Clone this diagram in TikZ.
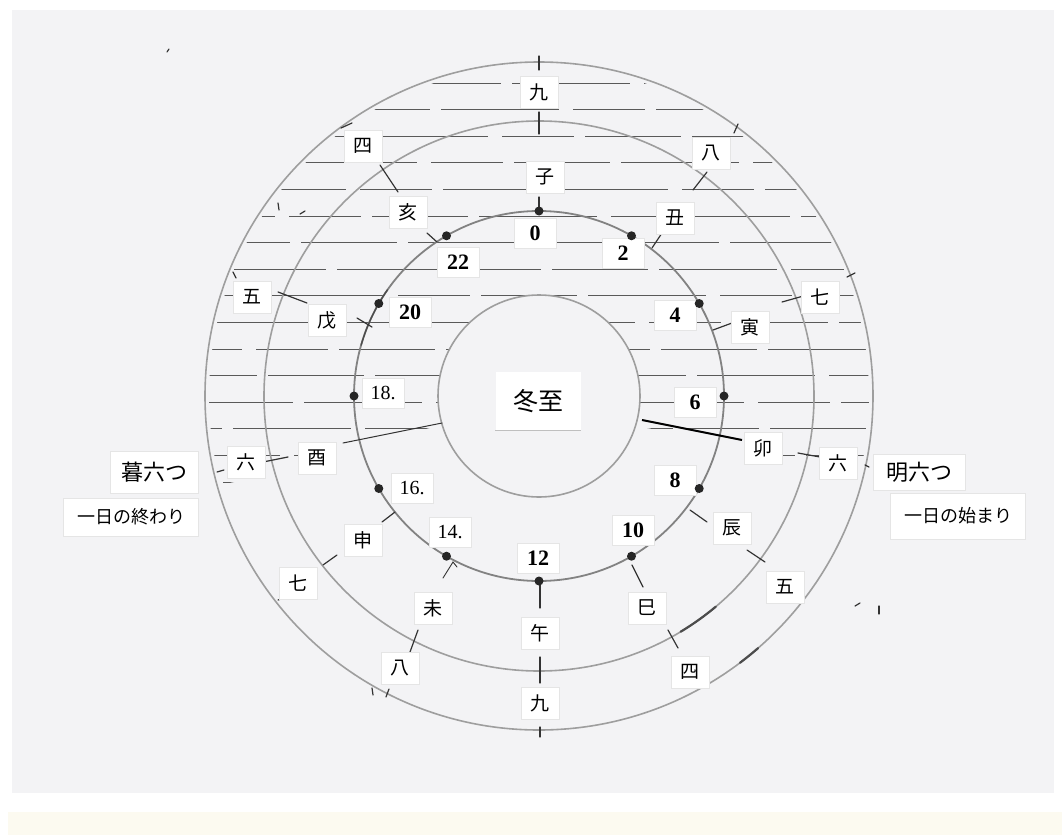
\documentclass[tikz,border=0pt]{standalone}
\usepackage{fontspec}
\setmainfont{Liberation Serif}
\newfontfamily\jp{Noto Sans CJK JP}
\usetikzlibrary{calc}
\definecolor{paper}{RGB}{243,243,245}
\definecolor{cream}{RGB}{252,250,240}
\definecolor{ringgray}{RGB}{158,158,158}
\definecolor{hourgray}{RGB}{130,130,130}
\begin{document}
\begin{tikzpicture}[x=1pt,y=-1pt,
  ring/.style={draw=ringgray,line width=1.6pt},
  hourring/.style={draw=hourgray,line width=1.8pt},
  hatchline/.style={draw=black!65,line width=0.85pt},
  tickmark/.style={draw=black!80,line width=1.2pt,line cap=round},
  darkarc/.style={draw=black!70,line width=2.2pt,line cap=round},
  hourdot/.style={circle,fill=black!85,inner sep=0pt,minimum size=9pt},
  slip/.style={fill=white,draw=black!10,line width=0.5pt,inner sep=0pt,minimum width=38pt,minimum height=32pt,font=\jp\fontsize{19}{19}\selectfont},
  numslip/.style={fill=white,draw=black!10,line width=0.5pt,inner sep=0pt,minimum width=42pt,minimum height=30pt,font=\fontsize{22}{22}\selectfont\bfseries},
  numslipthin/.style={numslip,font=\fontsize{20}{20}\selectfont},
  sideslip/.style={fill=white,draw=black!10,line width=0.5pt,inner sep=0pt,font=\jp\fontsize{#1}{#1}\selectfont},
]
\useasboundingbox (0,0) rectangle (1062,835);
% paper
\fill[white] (0,0) rectangle (1062,835);
\fill[paper] (12,10) rectangle (1054,793);
\fill[cream] (8,812) rectangle (1062,835);

\coordinate (c) at (539,396);

% night hatching
\begin{scope}
  \clip (c) circle[radius=330];
  \clip (150,40) -- (930,40) -- (930,462) -- (800,462) -- (742,446) -- (642,427)
        -- (442,425) -- (343,449) -- (290,470) -- (150,500) -- cycle;
  \foreach \k in {0,...,15}{
    \pgfmathsetmacro\yy{83+26.6*\k}
    \pgfmathsetmacro\ph{mod(\k*71,322)}
    \draw[hatchline,dash pattern=on 118pt off 14pt on 72pt off 11pt on 96pt off 11pt,dash phase=\ph pt]
      (190,\yy) -- (900,\yy);
  }
\end{scope}
\fill[paper] (c) circle[radius=101];

% circles
\draw[ring] (c) circle[radius=334];
\draw[ring] (c) circle[radius=275];
\draw[hourring] (c) circle[radius=185];
\draw[ring] (c) circle[radius=101];

% darker pencil segments
\draw[darkarc] ($(c)+(50:275)$) arc[start angle=50,end angle=59,radius=275];
\draw[darkarc] ($(c)+(49:334)$) arc[start angle=49,end angle=53,radius=334];
\draw[darkarc,line width=1.4pt] ($(c)+(196:185)$) arc[start angle=196,end angle=215,radius=185];

% ticks
\draw[tickmark] (539,56) -- (539,70);
\draw[tickmark] (539,112) -- (539,134);
\draw[tickmark] (539,197) -- (539,208);
\draw[tickmark] (380,165) -- (398,192);
\draw[tickmark] (707,172) -- (693,190);
\draw[tickmark] (738,124) -- (734,133);
\draw[tickmark] (341,128) -- (352,123);
\draw[tickmark] (427,233) -- (437,242);
\draw[tickmark] (662,233) -- (652,248);
\draw[tickmark] (278,292) -- (307,303);
\draw[tickmark] (357,318) -- (372,327);
\draw[tickmark] (233,272) -- (236,278);
\draw[tickmark] (263,462) -- (288,457);
\draw[tickmark] (217,472) -- (224,470);
\draw[tickmark,line width=1pt] (343,443) -- (442,423);
\draw[tickmark] (782,302) -- (807,295);
\draw[tickmark] (847,277) -- (855,273);
\draw[tickmark] (713,330) -- (732,323);
\draw[draw=black,line width=2pt] (642,420) -- (742,440);
\draw[tickmark] (798,453) -- (820,457);
\draw[tickmark] (865,465) -- (869,467);
\draw[tickmark] (690,510) -- (707,522);
\draw[tickmark] (747,550) -- (765,562);
\draw[tickmark] (632,565) -- (643,587);
\draw[tickmark] (668,630) -- (678,648);
\draw[tickmark] (382,522) -- (395,512);
\draw[tickmark] (323,565) -- (337,555);
\draw[tickmark,line width=0.9pt] (443,578) -- (453,562) -- (457,567);
\draw[tickmark] (540,580) -- (540,608);
\draw[tickmark] (540,657) -- (540,683);
\draw[tickmark] (540,727) -- (540,737);
\draw[tickmark] (418,630) -- (410,652);
\draw[tickmark] (278,600) -- (284,598);
\draw[tickmark] (372,688) -- (373,695);
\draw[tickmark] (389,689) -- (386,697);
\draw[tickmark] (855,606) -- (860,603);
\draw[tickmark] (879,606) -- (879,614);
\draw[tickmark] (278,203) -- (279,210);
\draw[tickmark] (300,214) -- (305,211);
\draw[tickmark] (167,52) -- (169,49);

% 時 (outer ring)
\node[slip] (o0) at (539,92) {九};
\node[slip] (o1) at (711,153) {八};
\node[slip] (o2) at (820,297) {七};
\node[slip] (o3) at (838,463) {六};
\node[slip] (o4) at (785,587) {五};
\node[slip] (o5) at (690,672) {四};
\node[slip] (o6) at (540,703) {九};
\node[slip] (o7) at (400,668) {八};
\node[slip] (o8) at (298,583) {七};
\node[slip] (o9) at (246,462) {六};
\node[slip] (o10) at (252,297) {五};
\node[slip] (o11) at (363,146) {四};

% 十二支 (middle ring)
\node[slip] (z0) at (545,177) {子};
\node[slip] (z1) at (675,218) {丑};
\node[slip] (z2) at (750,327) {寅};
\node[slip] (z3) at (763,448) {卯};
\node[slip] (z4) at (732,528) {辰};
\node[slip] (z5) at (647,608) {巳};
\node[slip] (z6) at (540,633) {午};
\node[slip] (z7) at (433,608) {未};
\node[slip] (z8) at (363,540) {申};
\node[slip] (z9) at (317,458) {酉};
\node[slip] (z10) at (327,320) {戊};
\node[slip] (z11) at (408,212) {亥};

% hours
\node[numslip] (n0) at (535,233) {0};
\node[numslip] (n2) at (623,253) {2};
\node[numslip] (n4) at (675,315) {4};
\node[numslip] (n6) at (695,402) {6};
\node[numslip] (n8) at (675,480) {8};
\node[numslip] (n10) at (633,530) {10};
\node[numslip] (n12) at (538,558) {12};
\node[numslipthin] (n14) at (450,532) {14.};
\node[numslipthin] (n16) at (412,488) {16.};
\node[numslipthin] (n18) at (383,393) {18.};
\node[numslip] (n20) at (410,312) {20};
\node[numslip] (n22) at (458,262) {22};

\foreach \h in {0,2,...,22}{
  \node[hourdot] (d\h) at ($(c)+(-90+15*\h:185)$) {};
}

% centre
\node[sideslip=25,minimum width=85pt,minimum height=58pt,draw=none] (winter) at (538,401) {冬至};
\draw[draw=black!25,line width=0.6pt] (winter.south west) -- (winter.south east);

% side labels
\node[sideslip=22,minimum width=88pt,minimum height=42pt] (kure) at (154,472) {暮六つ};
\node[sideslip=18,minimum width=135pt,minimum height=38pt] (owari) at (131,517) {一日の終わり};
\node[sideslip=22,minimum width=92pt,minimum height=36pt] (ake) at (919,472) {明六つ};
\node[sideslip=18,minimum width=135pt,minimum height=46pt] (hajime) at (958,516) {一日の始まり};
\end{tikzpicture}
\end{document}
